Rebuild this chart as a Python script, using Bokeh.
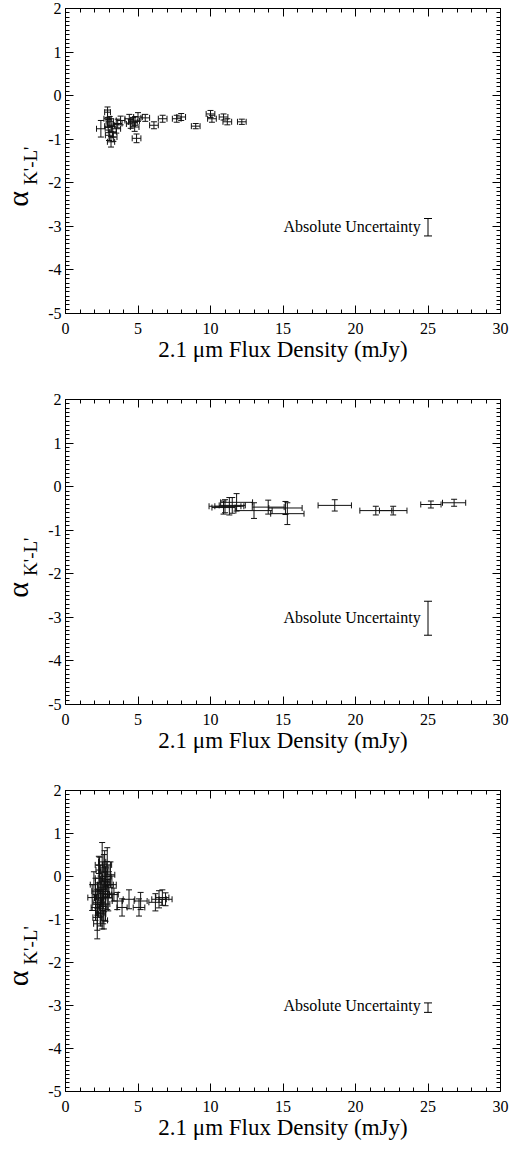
import math
from bokeh.plotting import figure
from bokeh.models import (ColumnDataSource, Whisker, TeeHead, Label, LinearAxis,
                          SingleIntervalTicker, Range1d, CustomJSTickFormatter)
from bokeh.layouts import column, row
from bokeh.embed import file_html
from bokeh.resources import INLINE

# ---------------- data ----------------
p1_x = [2.44, 2.9, 2.9, 3.0, 3.14, 3.14, 3.26, 3.5, 3.6, 3.8, 4.4, 4.65, 4.77, 4.9, 5.0,
        5.5, 6.1, 6.7, 7.67, 7.98, 8.98, 10.0, 10.1, 10.9, 11.16, 12.16,
        2.95, 3.05, 3.3, 4.5, 4.8]
p1_y = [-0.76, -0.53, -0.38, -0.91, -0.68, -1.06, -0.83, -0.76, -0.64, -0.57, -0.53, -0.6, -0.72, -0.98, -0.49,
        -0.51, -0.68, -0.53, -0.53, -0.49, -0.7, -0.42, -0.53, -0.49, -0.6, -0.6,
        -0.7, -0.6, -0.95, -0.65, -0.58]
p1_xerr = [0.3, 0.25, 0.2, 0.25, 0.25, 0.25, 0.25, 0.3, 0.3, 0.3, 0.3, 0.3, 0.3, 0.3, 0.3,
           0.3, 0.3, 0.3, 0.3, 0.3, 0.3, 0.3, 0.3, 0.3, 0.3, 0.3,
           0.25, 0.25, 0.25, 0.3, 0.3]
p1_yerr = [0.19, 0.2, 0.12, 0.12, 0.15, 0.12, 0.12, 0.1, 0.1, 0.1, 0.1, 0.1, 0.1, 0.1, 0.1,
           0.08, 0.08, 0.08, 0.08, 0.08, 0.06, 0.08, 0.08, 0.07, 0.07, 0.06,
           0.15, 0.12, 0.1, 0.1, 0.1]

p2_x = [11.0, 11.3, 11.5, 11.8, 10.9, 13.0, 13.98, 15.17, 15.3, 18.57, 21.4, 22.6, 25.2, 26.8]
p2_y = [-0.45, -0.45, -0.43, -0.36, -0.48, -0.55, -0.47, -0.49, -0.62, -0.43, -0.55, -0.55, -0.41, -0.37]
p2_xerr = [1.1, 1.0, 0.9, 1.1, 0.8, 1.25, 1.1, 1.15, 1.15, 1.15, 1.1, 0.95, 0.7, 0.8]
p2_yerr = [0.15, 0.2, 0.18, 0.2, 0.15, 0.18, 0.16, 0.15, 0.25, 0.13, 0.1, 0.1, 0.08, 0.08]

p3_x = [1.84, 1.96, 2.07, 2.19, 2.3, 2.42, 2.53, 2.53, 2.65, 2.76, 2.76, 2.88, 3.0, 3.1,
        2.88, 2.3, 2.19, 2.65, 3.2, 2.42, 2.07, 3.34, 2.53,
        2.3, 2.5, 2.6, 2.7, 2.4, 2.2, 2.95, 2.85, 2.35, 2.6,
        3.57, 3.9, 4.38, 5.07, 5.18, 6.2, 6.45, 6.68, 6.9]
p3_y = [-0.49, -0.19, -0.72, -1.1, 0.27, -0.34, 0.34, -0.87, 0.11, -0.11, -0.64, 0.27, -0.19, 0.04,
        -0.42, -0.04, -0.95, -1.02, -0.19, -0.64, -0.34, -0.42, -0.49,
        -0.5, -0.25, -0.7, 0.2, -0.85, -0.6, -0.5, 0.0, 0.15, -0.4,
        -0.57, -0.72, -0.53, -0.72, -0.57, -0.6, -0.53, -0.49, -0.53]
p3_xerr = [0.3, 0.25, 0.3, 0.25, 0.25, 0.25, 0.25, 0.25, 0.25, 0.25, 0.3, 0.3, 0.3, 0.3,
           0.3, 0.25, 0.3, 0.25, 0.3, 0.25, 0.25, 0.3, 0.25,
           0.3, 0.3, 0.25, 0.3, 0.25, 0.3, 0.3, 0.3, 0.25, 0.3,
           0.35, 0.35, 0.4, 0.4, 0.45, 0.45, 0.5, 0.45, 0.45]
p3_yerr = [0.3, 0.3, 0.3, 0.35, 0.2, 0.35, 0.45, 0.35, 0.4, 0.35, 0.4, 0.4, 0.3, 0.3,
           0.35, 0.3, 0.3, 0.2, 0.2, 0.3, 0.3, 0.15, 0.3,
           0.35, 0.35, 0.4, 0.4, 0.3, 0.3, 0.3, 0.35, 0.3, 0.35,
           0.2, 0.2, 0.22, 0.2, 0.2, 0.2, 0.2, 0.18, 0.15]

abs_x = 25.0
abs_y = [-3.02, -3.02, -3.05]
abs_err = [0.2, 0.39, 0.11]

x_ticks = [0, 5, 10, 15, 20, 25, 30]
y_ticks = [-5, -4, -3, -2, -1, 0, 1, 2]
x_label = "2.1 \u03bcm Flux Density (mJy)"
y_label_main = "\u03b1"
y_label_sub = "K'-L'"
abs_text = "Absolute Uncertainty"

FONT = "Liberation Serif"
TOP = 8


def make_label_fig(bottom, height):
    lf = figure(width=45, height=height, output_backend="svg", toolbar_location=None,
                x_range=Range1d(0, 45), y_range=Range1d(-5, 2),
                min_border_left=0, min_border_right=0, min_border_top=TOP,
                min_border_bottom=bottom)
    lf.axis.visible = False
    lf.grid.visible = False
    lf.outline_line_color = None
    lf.add_layout(Label(x=17, y=-2.55, text=y_label_main, angle=math.pi / 2,
                        text_font=FONT, text_font_size="30px", text_align="left",
                        text_baseline="alphabetic", text_color="black"))
    lf.add_layout(Label(x=30, y=-2.05, text=y_label_sub, angle=math.pi / 2,
                        text_font=FONT, text_font_size="19px", text_align="left",
                        text_baseline="alphabetic", text_color="black"))
    return lf


def make_panel(xs, ys, xe, ye, aerr, ay, bottom, height):
    p = figure(width=466, height=height, output_backend="svg", toolbar_location=None,
               x_range=Range1d(0, 30), y_range=Range1d(-5, 2),
               min_border_left=20, min_border_right=11, min_border_top=TOP,
               min_border_bottom=bottom, x_axis_label=x_label)
    p.grid.visible = False
    p.outline_line_color = "black"
    p.outline_line_width = 1

    p.xaxis.ticker = SingleIntervalTicker(interval=5, num_minor_ticks=5)
    p.yaxis.ticker = SingleIntervalTicker(interval=1, num_minor_ticks=10)
    p.xaxis.major_label_overrides = {t: str(t) for t in x_ticks}
    p.yaxis.major_label_overrides = {t: str(t) for t in y_ticks}
    for ax in (p.xaxis[0], p.yaxis[0]):
        ax.major_tick_in = 8
        ax.major_tick_out = 0
        ax.minor_tick_in = 4
        ax.minor_tick_out = 0
        ax.axis_line_color = "black"
        ax.major_tick_line_color = "black"
        ax.minor_tick_line_color = "black"
        ax.major_label_text_font = FONT
        ax.major_label_text_font_size = "16px"
        ax.major_label_text_color = "black"
    p.xaxis.major_label_standoff = 9
    p.yaxis.major_label_standoff = 4
    p.xaxis.axis_label_text_font = FONT
    p.xaxis.axis_label_text_font_size = "23px"
    p.xaxis.axis_label_text_font_style = "normal"
    p.xaxis.axis_label_text_color = "black"
    p.xaxis.axis_label_standoff = 0

    blank = CustomJSTickFormatter(code="return ''")
    top_ax = LinearAxis(ticker=SingleIntervalTicker(interval=5, num_minor_ticks=5),
                        formatter=blank, major_tick_in=8, major_tick_out=0,
                        minor_tick_in=4, minor_tick_out=0, major_label_standoff=0,
                        major_label_text_font_size="1px")
    right_ax = LinearAxis(ticker=SingleIntervalTicker(interval=1, num_minor_ticks=10),
                          formatter=blank, major_tick_in=8, major_tick_out=0,
                          minor_tick_in=4, minor_tick_out=0, major_label_standoff=0,
                          major_label_text_font_size="1px")
    p.add_layout(top_ax, "above")
    p.add_layout(right_ax, "right")

    src = ColumnDataSource(dict(
        x=xs, y=ys,
        xl=[a - b for a, b in zip(xs, xe)], xu=[a + b for a, b in zip(xs, xe)],
        yl=[a - b for a, b in zip(ys, ye)], yu=[a + b for a, b in zip(ys, ye)],
    ))
    for dim, base, lo, up in (("height", "x", "yl", "yu"), ("width", "y", "xl", "xu")):
        p.add_layout(Whisker(source=src, base=base, lower=lo, upper=up, dimension=dim,
                             line_color="#111111", line_width=1,
                             upper_head=TeeHead(size=6, line_color="#111111", line_width=1),
                             lower_head=TeeHead(size=6, line_color="#111111", line_width=1)))

    asrc = ColumnDataSource(dict(x=[abs_x], yl=[ay - aerr], yu=[ay + aerr]))
    p.add_layout(Whisker(source=asrc, base="x", lower="yl", upper="yu", dimension="height",
                         line_color="black", line_width=1,
                         upper_head=TeeHead(size=8, line_color="black", line_width=1),
                         lower_head=TeeHead(size=8, line_color="black", line_width=1)))
    p.add_layout(Label(x=24.5, y=-3.0, text=abs_text, text_font=FONT,
                       text_font_size="16px", text_align="right",
                       text_baseline="middle", text_color="black"))
    return p


rows = []
specs = [
    (p1_x, p1_y, p1_xerr, p1_yerr, 0, 78, 391),
    (p2_x, p2_y, p2_xerr, p2_yerr, 1, 78, 391),
    (p3_x, p3_y, p3_xerr, p3_yerr, 2, 47, 360),
]
for xs, ys, xe, ye, i, bottom, height in specs:
    lf = make_label_fig(bottom, height)
    pf = make_panel(xs, ys, xe, ye, abs_err[i], abs_y[i], bottom, height)
    rows.append(row(lf, pf, spacing=0))

layout = column(*rows, spacing=0)
open("out.html", "w").write(file_html(layout, INLINE))
